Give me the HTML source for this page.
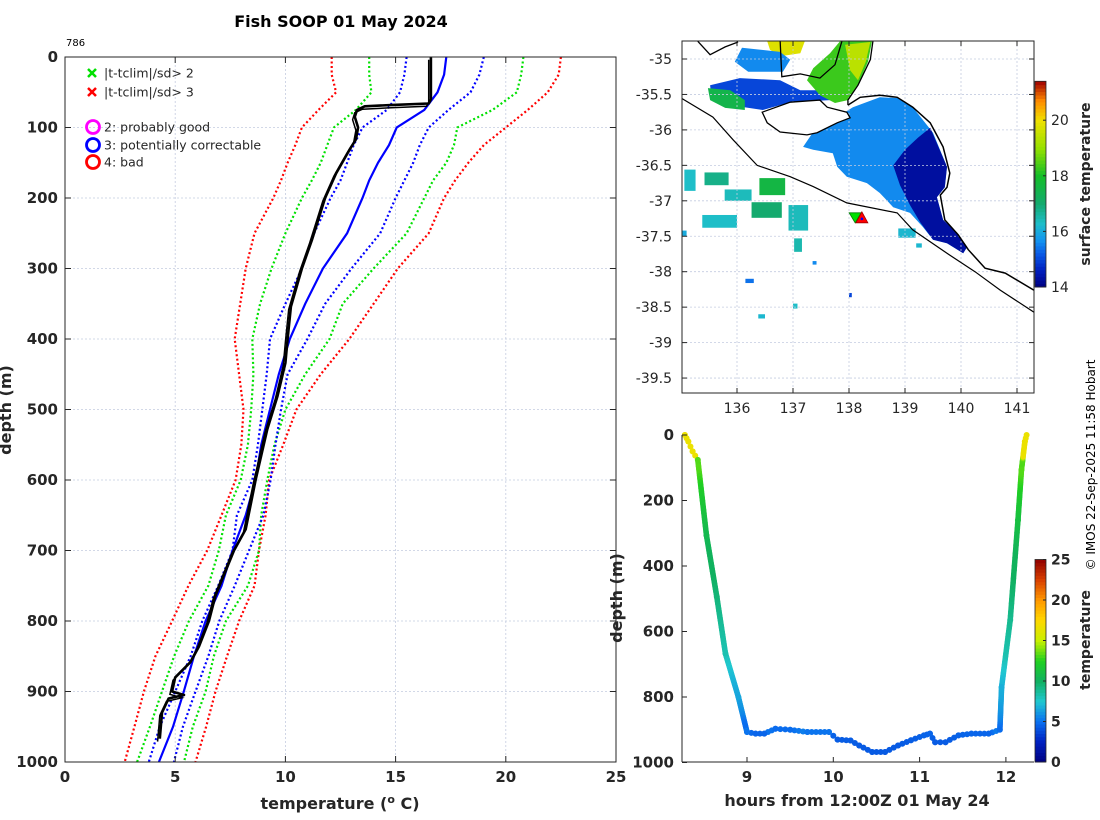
<!DOCTYPE html>
<html><head><meta charset="utf-8"><title>Fish SOOP 01 May 2024</title>
<style>
html,body{margin:0;padding:0;background:#fff;}
svg{display:block;font-family:"DejaVu Sans","Liberation Sans",sans-serif;}
.b{font-weight:bold;}
</style></head>
<body>
<svg id="fig" width="1100" height="820" viewBox="0 0 1100 820" xmlns="http://www.w3.org/2000/svg">
  <rect x="0" y="0" width="1100" height="820" fill="#fff"/>
  <text x="341" y="27" text-anchor="middle" font-size="16" class="b">Fish SOOP 01 May 2024</text>
  <text x="66" y="46" font-size="10">786</text>
  <g id="profile"></g>
  <g id="map"></g>
  <g id="traj"></g>
  <text transform="translate(1095,465) rotate(-90)" text-anchor="middle" font-size="12">© IMOS 22-Sep-2025 11:58 Hobart</text>
</svg>
<script>
// ---------- profile data ----------
const climDepths=[0,25,50,75,100,125,150,175,200,250,300,350,400,450,500,550,600,650,700,750,800,850,900,950,1000];
const redLow=[12.1,12.1,12.3,11.5,10.75,10.45,10.1,9.8,9.45,8.6,8.2,7.95,7.7,7.9,8.1,8.0,7.74,7.1,6.45,5.6,4.86,4.1,3.58,3.15,2.71];
const greenLow=[13.8,13.8,13.9,13.2,12.2,11.9,11.6,11.2,10.75,10.0,9.37,8.85,8.5,8.55,8.45,8.3,7.97,7.3,6.98,6.5,5.62,4.95,4.4,3.85,3.27];
const blueLow=[15.5,15.4,15.2,14.6,13.5,13.1,12.8,12.5,12.05,11.3,10.75,10.0,9.3,9.15,8.95,8.75,8.5,7.8,7.6,6.95,6.23,5.7,5.0,4.3,3.8];
const climMean=[17.3,17.2,16.9,16.3,15.05,14.7,14.2,13.8,13.5,12.8,11.7,10.9,10.2,9.7,9.3,8.9,8.65,8.2,7.6,7.1,6.38,5.85,5.39,4.9,4.26];
const blueHigh=[19.0,18.8,18.4,17.4,16.5,16.1,15.8,15.4,15.0,14.3,13.0,11.8,11.0,10.1,9.8,9.55,9.33,9.0,8.35,7.7,7.0,6.5,5.92,5.35,4.94];
const greenHigh=[20.8,20.7,20.5,19.4,17.8,17.65,17.3,16.7,16.3,15.5,14.0,12.6,12.0,10.9,10.0,9.5,9.18,8.9,8.8,8.3,7.3,6.75,6.38,5.8,5.4];
const redHigh=[22.5,22.4,21.9,21.0,20.0,19.0,18.3,17.7,17.2,16.5,15.1,14.0,12.9,11.6,10.5,9.9,9.26,9.1,8.8,8.6,7.9,7.35,6.83,6.4,5.92];
const obsDepth=[0,60,66,68,70,75,85,100,117,132,165,200,260,300,354,400,434,481,528,600,670,700,764,800,836,858,880,900,905,910,930,967];
const obsTemp=[16.6,16.6,16.5,14.9,13.6,13.25,13.15,13.3,13.2,12.9,12.3,11.8,11.2,10.75,10.25,10.1,10.0,9.64,9.18,8.65,8.2,7.67,6.83,6.53,6.08,5.7,5.0,4.86,5.4,4.7,4.4,4.3];
const tempTicks=[0,5,10,15,20,25];
const depthTicks=[0,100,200,300,400,500,600,700,800,900,1000];
// ---------- trajectory data ----------
const trajHour=[8.28,8.32,8.37,8.43,8.53,8.65,8.75,8.9,9.0,9.1,9.2,9.33,9.5,9.7,9.95,10.05,10.2,10.3,10.45,10.6,10.75,10.9,11.05,11.12,11.18,11.3,11.45,11.6,11.8,11.93,11.95,12.05,12.14,12.18,12.22,12.24];
const trajDepth=[0,20,50,76,306,494,667,800,907,912,912,897,900,907,907,930,933,948,968,968,948,932,917,912,938,938,917,912,912,900,770,565,260,107,20,0];
const hourTicks=[9,10,11,12];
const trajDepthTicks=[0,200,400,600,800,1000];
const tempCbTicks=[0,5,10,15,20,25];
// ---------- map data ----------
const lonTicks=[136,137,138,139,140,141];
const latTicks=[-35,-35.5,-36,-36.5,-37,-37.5,-38,-38.5,-39,-39.5];
const sstTicks=[14,16,18,20];
const kangarooIsland=[[136.45,-35.75],[136.95,-35.61],[137.48,-35.58],[137.61,-35.68],[137.96,-35.75],[138.02,-35.83],[137.79,-35.9],[137.43,-36.04],[137.25,-36.07],[136.77,-36.03],[136.54,-35.9]];
const coastMain=[[137.98,-35.65],[138.2,-35.54],[138.55,-35.51],[138.86,-35.54],[139.14,-35.68],[139.45,-35.9],[139.68,-36.24],[139.8,-36.61],[139.75,-36.81],[139.63,-36.92],[139.71,-37.27],[139.95,-37.48],[140.13,-37.69],[140.43,-37.95],[140.79,-38.02],[141.3,-38.26]];
const shelfLine=[[134.98,-35.54],[135.57,-35.82],[135.93,-36.14],[136.36,-36.5],[136.95,-36.66],[137.36,-36.8],[137.96,-37.03],[138.86,-37.17],[139.14,-37.41],[139.75,-37.74],[140.25,-38.0],[140.7,-38.26],[141.3,-38.57]];
const yorkeCoast=[[135.3,-34.75],[135.52,-34.94],[135.79,-34.83],[136.02,-34.76]];
const gulfWest=[[136.77,-34.73],[136.8,-35.25],[137.13,-35.21],[137.48,-35.27],[137.75,-35.08],[137.88,-34.73]];
const gulfEast=[[137.98,-35.65],[137.98,-35.58],[138.16,-35.37],[138.38,-35.01],[138.43,-34.73]];
const patchLightBlue=[[137.48,-35.9],[137.79,-35.82],[138.07,-35.68],[138.55,-35.54],[138.86,-35.55],[139.14,-35.68],[139.5,-36.04],[139.75,-36.52],[139.71,-36.81],[139.57,-36.95],[139.68,-37.27],[139.93,-37.45],[140.11,-37.65],[140.04,-37.74],[139.75,-37.6],[139.5,-37.55],[139.32,-37.37],[139.09,-37.17],[138.79,-37.09],[138.55,-36.89],[138.32,-36.75],[137.96,-36.66],[137.79,-36.52],[137.71,-36.33],[137.36,-36.28],[137.18,-36.24],[137.3,-36.1]];
const patchNavy=[[139.45,-35.97],[139.75,-36.52],[139.71,-36.81],[139.57,-36.95],[139.68,-37.27],[139.93,-37.45],[140.11,-37.65],[140.04,-37.74],[139.75,-37.6],[139.5,-37.55],[139.27,-37.3],[139.09,-37.06],[138.91,-36.78],[138.79,-36.5],[139.0,-36.28],[139.23,-36.11]];
const patchBlueBand=[[135.52,-35.37],[136.05,-35.27],[136.77,-35.3],[137.13,-35.44],[137.57,-35.44],[137.66,-35.58],[136.95,-35.61],[136.46,-35.72],[135.88,-35.65],[135.55,-35.58]];
const patchGreenLeft=[[135.48,-35.41],[135.88,-35.44],[136.14,-35.58],[136.14,-35.72],[135.79,-35.69],[135.52,-35.58]];
const patchGulf=[[137.25,-35.3],[137.36,-35.13],[137.66,-34.92],[137.84,-34.75],[138.41,-34.75],[138.34,-35.04],[138.16,-35.37],[137.98,-35.58],[137.75,-35.62],[137.48,-35.51]];
const patchGulfYellow=[[137.93,-34.8],[138.38,-34.76],[138.3,-35.04],[138.16,-35.3],[138.02,-35.16]];
const patchTopYellow=[[136.54,-34.75],[137.21,-34.75],[137.13,-34.92],[136.77,-34.96],[136.59,-34.87]];
const patchTopBlue=[[136.09,-34.84],[136.77,-34.9],[136.95,-35.01],[136.82,-35.18],[136.2,-35.18],[135.96,-35.04]];
const patchSstValues=[15.6,14.3,15.0,17.5,18.3,19.4,19.8,15.6];
const scatterBoxes=[[135.06,-36.56,135.26,-36.86,16.3],[135.42,-36.6,135.85,-36.78,16.8],[135.78,-36.84,136.26,-37.0,16.4],[136.4,-36.68,136.86,-36.92,17.6],[136.26,-37.02,136.8,-37.24,17.0],[136.92,-37.06,137.27,-37.42,16.4],[135.38,-37.2,136.0,-37.38,16.3],[137.02,-37.53,137.16,-37.72,16.5],[138.88,-37.39,139.19,-37.52,16.2],[135.02,-37.42,135.1,-37.5,16.0],[137.35,-37.85,137.42,-37.9,15.6],[136.15,-38.1,136.3,-38.16,15.4],[138.0,-38.3,138.05,-38.36,15.0],[136.38,-38.6,136.5,-38.66,16.2],[137.0,-38.45,137.08,-38.52,16.3],[139.2,-37.6,139.3,-37.66,16.2]];
const shipLon=[138.11,138.23];
const shipLat=[-37.24,-37.24];

// ---------- helpers ----------
const NS='http://www.w3.org/2000/svg';
function mk(parent,tag,attrs){const e=document.createElementNS(NS,tag);for(const k in attrs)e.setAttribute(k,attrs[k]);parent.appendChild(e);return e;}
function ramp(st,v){v=Math.max(st[0][0],Math.min(st[st.length-1][0],v));for(let i=1;i<st.length;i++){if(v<=st[i][0]){const a=st[i-1],b=st[i],f=(v-a[0])/(b[0]-a[0]);const c=a[1].map((x,j)=>Math.round(x+(b[1][j]-x)*f));return 'rgb('+c.join(',')+')';}}const l=st[st.length-1][1];return 'rgb('+l.join(',')+')';}
const stops=[[0,[0,0,128]],[0.1,[0,32,192]],[0.2,[10,112,240]],[0.3,[32,200,208]],[0.4,[16,176,96]],[0.5,[32,208,32]],[0.6,[200,240,0]],[0.7,[255,216,0]],[0.8,[255,152,0]],[0.9,[216,64,0]],[1,[144,0,0]]];
const sstStops=[[14,[0,0,128]],[14.6,[0,30,190]],[15.2,[10,90,230]],[15.7,[20,150,240]],[16.3,[30,190,200]],[17,[20,170,110]],[18,[20,190,40]],[19,[150,225,0]],[20,[240,225,0]],[20.7,[255,140,0]],[21.4,[160,0,0]]];
function cmap(v){return ramp(stops,v);}
const sstC=v=>ramp(sstStops,v);
function interp(xs,ys,x){if(x<=xs[0])return ys[0];for(let i=1;i<xs.length;i++){if(x<=xs[i]){const f=(x-xs[i-1])/(xs[i]-xs[i-1]);return ys[i-1]+(ys[i]-ys[i-1])*f;}}return ys[ys.length-1];}

// ---------- profile plot ----------
const P=document.getElementById('profile');
const xT=t=>65+t*22.04, yD=d=>57+d*0.705;
depthTicks.forEach(d=>{const l=mk(P,'line',{x1:65,x2:616,y1:yD(d),y2:yD(d),stroke:'#c4cce0','stroke-width':0.8,'stroke-dasharray':'2 2'});});
tempTicks.forEach(t=>{const l=mk(P,'line',{x1:xT(t),x2:xT(t),y1:57,y2:762,stroke:'#c4cce0','stroke-width':0.8,'stroke-dasharray':'2 2'});});
function climLine(vals,color,dash,name){const pts=climDepths.map((d,i)=>xT(vals[i]).toFixed(1)+','+yD(d).toFixed(1)).join(' ');const e=mk(P,'polyline',{points:pts,fill:'none',stroke:color,'stroke-width':2.2,'stroke-dasharray':dash?'2 2.5':'none'});}
climLine(redLow,'#ff0000',true,'clim-minus-3sd');
climLine(greenLow,'#00e000',true,'clim-minus-2sd');
climLine(blueLow,'#0000ff',true,'clim-minus-1sd');
climLine(redHigh,'#ff0000',true,'clim-plus-3sd');
climLine(greenHigh,'#00e000',true,'clim-plus-2sd');
climLine(blueHigh,'#0000ff',true,'clim-plus-1sd');
climLine(climMean,'#0000ff',false,'clim-mean');
{const pts=obsDepth.map((d,i)=>xT(obsTemp[i]).toFixed(1)+','+yD(d).toFixed(1)).join(' ');
const o=mk(P,'polyline',{points:pts,fill:'none',stroke:'#000','stroke-width':2.6,'stroke-linejoin':'round'});
const pts2=obsDepth.map((d,i)=>xT(obsTemp[i]-0.1).toFixed(1)+','+yD(d+4).toFixed(1)).join(' ');
const o2=mk(P,'polyline',{points:pts2,fill:'none',stroke:'#000','stroke-width':1.5});}
{const f=mk(P,'rect',{x:65,y:57,width:551,height:705,fill:'none',stroke:'#262626','stroke-width':1});}
depthTicks.forEach(d=>{mk(P,'line',{x1:65,x2:71,y1:yD(d),y2:yD(d),stroke:'#262626'});mk(P,'line',{x1:610,x2:616,y1:yD(d),y2:yD(d),stroke:'#262626'});
const t=mk(P,'text',{x:58,y:yD(d)+5,'text-anchor':'end','font-size':15,'font-weight':'bold',fill:'#262626'});t.textContent=d;});
tempTicks.forEach(v=>{mk(P,'line',{x1:xT(v),x2:xT(v),y1:756,y2:762,stroke:'#262626'});mk(P,'line',{x1:xT(v),x2:xT(v),y1:57,y2:63,stroke:'#262626'});
const t=mk(P,'text',{x:xT(v),y:782,'text-anchor':'middle','font-size':15,'font-weight':'bold',fill:'#262626'});t.textContent=v;});
{const t=mk(P,'text',{x:340,y:809,'text-anchor':'middle','font-size':16,'font-weight':'bold',fill:'#262626'});t.innerHTML='temperature (<tspan dy="-6" font-size="11">o</tspan><tspan dy="6"> C)</tspan>';}
{const t=mk(P,'text',{transform:'translate(11,410) rotate(-90)','text-anchor':'middle','font-size':16,'font-weight':'bold',fill:'#262626'});t.textContent='depth (m)';}
// legend
{const L=mk(P,'g',{});
function cross(y,c){mk(L,'path',{d:`M88 ${y-4}L96 ${y+4}M96 ${y-4}L88 ${y+4}`,stroke:c,'stroke-width':2.5});}
function txt(y,s){const t=mk(L,'text',{x:104,y:y+4.5,'font-size':12.5,fill:'#262626'});t.textContent=s;}
cross(73,'#00e000');txt(73,'|t-tclim|/sd> 2');
cross(92,'#ff0000');txt(92,'|t-tclim|/sd> 3');
[[127,'#ff00ff','2: probably good'],[145,'#0000ff','3: potentially correctable'],[162,'#ff0000','4: bad']].forEach(a=>{mk(L,'circle',{cx:93,cy:a[0],r:6.5,fill:'none',stroke:a[1],'stroke-width':2.8});txt(a[0],a[2]);});}

// ---------- map ----------
const M=document.getElementById('map');
const xLon=l=>737+(l-136)*56, yLat=l=>59+(-35-l)*70.9;
mk(M,'defs',{}).innerHTML='<clipPath id="mapclip"><rect x="682" y="41" width="352" height="352"/></clipPath>';
const MG=mk(M,'g',{'clip-path':'url(#mapclip)'});
function poly(g,pts,attrs,name){const e=mk(g,'polygon',Object.assign({points:pts.map(p=>xLon(p[0]).toFixed(1)+','+yLat(p[1]).toFixed(1)).join(' ')},attrs));return e;}
function line(g,pts,attrs,name){const e=mk(g,'polyline',Object.assign({points:pts.map(p=>xLon(p[0]).toFixed(1)+','+yLat(p[1]).toFixed(1)).join(' '),fill:'none'},attrs));return e;}
poly(MG,patchLightBlue,{fill:sstC(patchSstValues[0])},'sst-patch-shelf');
poly(MG,patchNavy,{fill:sstC(patchSstValues[1])},'sst-patch-upwelling');
poly(MG,patchBlueBand,{fill:sstC(patchSstValues[2])},'sst-patch-band');
poly(MG,patchGreenLeft,{fill:sstC(patchSstValues[3])},'sst-patch-west');
poly(MG,patchGulf,{fill:sstC(patchSstValues[4])},'sst-patch-gulf');
poly(MG,patchGulfYellow,{fill:sstC(patchSstValues[5])},'sst-patch-gulf-warm');
poly(MG,patchTopYellow,{fill:sstC(patchSstValues[6])},'sst-patch-spencer');
poly(MG,patchTopBlue,{fill:sstC(patchSstValues[7])},'sst-patch-spencer-cool');
scatterBoxes.forEach(b=>{const r=mk(MG,'rect',{x:xLon(b[0]),y:yLat(b[1]),width:xLon(b[2])-xLon(b[0]),height:yLat(b[3])-yLat(b[1]),fill:sstC(b[4])});});
latTicks.forEach(l=>{const g=mk(MG,'line',{x1:682,x2:1034,y1:yLat(l),y2:yLat(l),stroke:'#c4cce0','stroke-width':0.8,'stroke-dasharray':'2 2'});});
lonTicks.forEach(l=>{const g=mk(MG,'line',{x1:xLon(l),x2:xLon(l),y1:41,y2:393,stroke:'#c4cce0','stroke-width':0.8,'stroke-dasharray':'2 2'});});
poly(MG,kangarooIsland,{fill:'#fff',stroke:'#000','stroke-width':1.3},'kangaroo-island');
line(MG,coastMain,{stroke:'#000','stroke-width':1.5},'coastline');
line(MG,shelfLine,{stroke:'#000','stroke-width':1.2},'shelf-isobath');
line(MG,yorkeCoast,{stroke:'#000','stroke-width':1.3},'coastline-yorke');
line(MG,gulfWest,{stroke:'#000','stroke-width':1.3},'coastline-gulf-west');
line(MG,gulfEast,{stroke:'#000','stroke-width':1.3},'coastline-gulf-east');
{const x=xLon(shipLon[0]),y=yLat(shipLat[0]);const t=mk(MG,'polygon',{points:`${x-6},${y-5} ${x+6},${y-5} ${x},${y+5}`,fill:'#00e000',stroke:'#008000','stroke-width':0.8});}
{const x=xLon(shipLon[1]),y=yLat(shipLat[1]);const t=mk(MG,'polygon',{points:`${x-6},${y+5} ${x+6},${y+5} ${x},${y-6}`,fill:'#ff0000',stroke:'#a00000','stroke-width':0.8});mk(MG,'circle',{cx:x,cy:y+1,r:1.3,fill:'#0000ff'});}
{const f=mk(M,'rect',{x:682,y:41,width:352,height:352,fill:'none',stroke:'#262626','stroke-width':1});}
latTicks.forEach(l=>{mk(M,'line',{x1:682,x2:687,y1:yLat(l),y2:yLat(l),stroke:'#262626'});mk(M,'line',{x1:1029,x2:1034,y1:yLat(l),y2:yLat(l),stroke:'#262626'});
const t=mk(M,'text',{x:672,y:yLat(l)+5,'text-anchor':'end','font-size':14,fill:'#262626'});t.textContent=l;});
lonTicks.forEach(l=>{mk(M,'line',{x1:xLon(l),x2:xLon(l),y1:388,y2:393,stroke:'#262626'});mk(M,'line',{x1:xLon(l),x2:xLon(l),y1:41,y2:46,stroke:'#262626'});
const t=mk(M,'text',{x:xLon(l),y:413,'text-anchor':'middle','font-size':14,fill:'#262626'});t.textContent=l;});
// sst colorbar
{const yS=v=>287-(v-14)*27.8;const G=mk(M,'g',{});
for(let i=0;i<60;i++){const v0=14+i*7.4/60;mk(G,'rect',{x:1035,y:yS(v0+7.4/60),width:11,height:27.8*7.4/60+0.5,fill:sstC(v0+3.7/60)});}
mk(G,'rect',{x:1035,y:yS(21.4),width:11,height:27.8*7.4,fill:'none',stroke:'#262626','stroke-width':0.8});
sstTicks.forEach(v=>{mk(G,'line',{x1:1043,x2:1046,y1:yS(v),y2:yS(v),stroke:'#262626'});const t=mk(G,'text',{x:1051,y:yS(v)+5,'font-size':14,fill:'#262626'});t.textContent=v;});
const t=mk(G,'text',{transform:'translate(1090,184) rotate(-90)','text-anchor':'middle','font-size':14,'font-weight':'bold',fill:'#262626'});t.textContent='surface temperature';}

// ---------- trajectory plot ----------
const T=document.getElementById('traj');
const xH=h=>747+(h-9)*86.3, yB=d=>435+d*0.3275;
const tc=d=>cmap(interp(obsDepth,obsTemp,d)/25);
for(let i=1;i<trajHour.length;i++){const dd=Math.abs(trajDepth[i]-trajDepth[i-1]);if(dd>40){const n=24;for(let k=0;k<n;k++){const f0=k/n,f1=(k+1)/n;const h0=trajHour[i-1]+(trajHour[i]-trajHour[i-1])*f0,h1=trajHour[i-1]+(trajHour[i]-trajHour[i-1])*f1;const d0=trajDepth[i-1]+(trajDepth[i]-trajDepth[i-1])*f0,d1=trajDepth[i-1]+(trajDepth[i]-trajDepth[i-1])*f1;const s=mk(T,'line',{x1:xH(h0),y1:yB(d0),x2:xH(h1),y2:yB(d1),stroke:tc((d0+d1)/2),'stroke-width':5.5,'stroke-linecap':'round'});}}
else{const n=Math.max(2,Math.round((trajHour[i]-trajHour[i-1])/0.05));for(let k=0;k<n;k++){const f=k/n;const h=trajHour[i-1]+(trajHour[i]-trajHour[i-1])*f,d=trajDepth[i-1]+(trajDepth[i]-trajDepth[i-1])*f;const c=mk(T,'circle',{cx:xH(h),cy:yB(d),r:3,fill:tc(d)});}}}
trajHour.forEach((h,i)=>{const c=mk(T,'circle',{cx:xH(h),cy:yB(trajDepth[i]),r:3,fill:tc(trajDepth[i])});});
mk(T,'line',{x1:682,x2:682,y1:435,y2:762,stroke:'#262626'});
mk(T,'line',{x1:682,x2:1034,y1:762,y2:762,stroke:'#262626'});
trajDepthTicks.forEach(d=>{mk(T,'line',{x1:682,x2:687,y1:yB(d),y2:yB(d),stroke:'#262626'});const t=mk(T,'text',{x:674,y:yB(d)+5,'text-anchor':'end','font-size':15,'font-weight':'bold',fill:'#262626'});t.textContent=d;});
hourTicks.forEach(h=>{mk(T,'line',{x1:xH(h),x2:xH(h),y1:757,y2:762,stroke:'#262626'});const t=mk(T,'text',{x:xH(h),y:782,'text-anchor':'middle','font-size':15,'font-weight':'bold',fill:'#262626'});t.textContent=h;});
{const t=mk(T,'text',{x:857,y:806,'text-anchor':'middle','font-size':16,'font-weight':'bold',fill:'#262626'});t.textContent='hours from 12:00Z 01 May 24';}
{const t=mk(T,'text',{transform:'translate(622,598) rotate(-90)','text-anchor':'middle','font-size':16,'font-weight':'bold',fill:'#262626'});t.textContent='depth (m)';}
{const yC=v=>762-v*8.1;const G=mk(T,'g',{});
for(let i=0;i<64;i++){const v0=i*25/64;mk(G,'rect',{x:1035,y:yC(v0+25/64),width:11,height:8.1*25/64+0.5,fill:cmap((v0+12.5/64)/25)});}
mk(G,'rect',{x:1035,y:yC(25),width:11,height:8.1*25,fill:'none',stroke:'#262626','stroke-width':0.8});
tempCbTicks.forEach(v=>{mk(G,'line',{x1:1043,x2:1046,y1:yC(v),y2:yC(v),stroke:'#262626'});const t=mk(G,'text',{x:1051,y:yC(v)+5,'font-size':14,'font-weight':'bold',fill:'#262626'});t.textContent=v;});
const t=mk(G,'text',{transform:'translate(1090,640) rotate(-90)','text-anchor':'middle','font-size':14,'font-weight':'bold',fill:'#262626'});t.textContent='temperature';}
</script>
</body></html>
